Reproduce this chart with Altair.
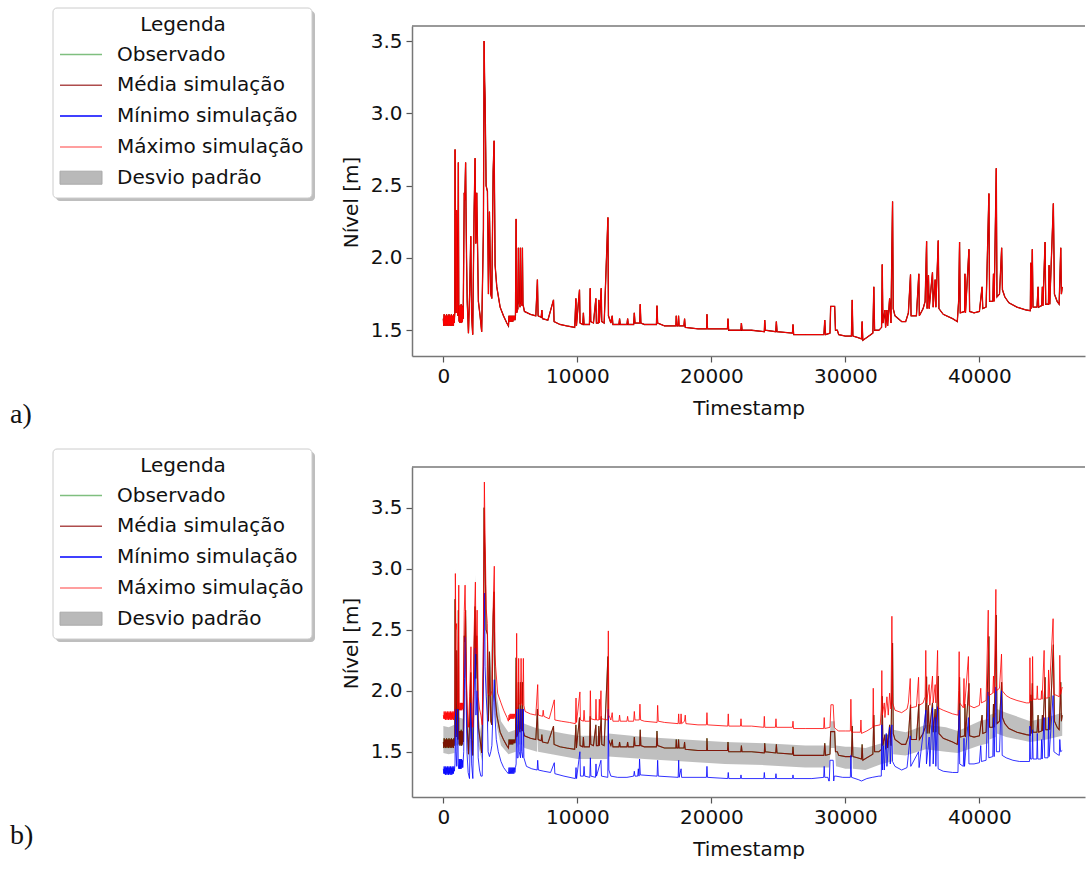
import altair as alt
import pandas as pd

# ---------------- data ----------------
# "Média simulação" (also panel a series and the hidden observed line): (timestamp, level)
mean_pts = [
    (0, 1.58), (30, 1.53), (60, 1.61), (90, 1.54), (120, 1.60), (150, 1.53), (180, 1.60), (210, 1.54),
    (240, 1.61), (270, 1.53), (300, 1.60), (330, 1.54), (360, 1.60), (390, 1.53), (420, 1.61), (450, 1.54),
    (480, 1.60), (510, 1.53), (540, 1.60), (570, 1.54), (600, 1.61), (630, 1.53), (660, 1.60), (690, 1.54),
    (720, 1.60), (750, 1.53), (780, 1.61), (810, 1.55),
    (850, 1.62), (874, 2.75), (900, 2.30), (930, 1.90), (960, 1.62), (990, 2.33), (1030, 1.70), (1080, 1.60),
    (1120, 2.66), (1150, 1.65),
    (1180, 1.56), (1210, 1.67), (1240, 1.55), (1270, 1.67), (1300, 1.56), (1330, 1.68), (1360, 1.55),
    (1390, 1.67), (1420, 1.56), (1450, 1.66), (1480, 1.58),
    (1560, 2.45), (1600, 2.40), (1660, 2.66), (1690, 2.35), (1730, 2.00), (1780, 1.70), (1873, 1.48),
    (1960, 1.75), (2045, 2.15), (2110, 1.60), (2190, 1.47), (2290, 2.30), (2368, 2.69), (2420, 2.10),
    (2490, 2.45), (2614, 1.70), (2740, 1.60), (2860, 1.49), (2990, 2.20), (3040, 3.50), (3080, 3.22),
    (3115, 3.10), (3190, 2.50), (3290, 2.46), (3365, 1.75), (3440, 2.32), (3540, 1.75), (3615, 1.72),
    (3715, 2.60), (3787, 2.81), (3862, 1.95), (3987, 1.80), (4236, 1.66), (4485, 1.60), (4734, 1.55),
    (4858, 1.53),
    (4900, 1.60), (4940, 1.56), (4980, 1.60), (5020, 1.56), (5060, 1.60), (5100, 1.56), (5140, 1.60),
    (5180, 1.56), (5220, 1.60), (5260, 1.57), (5300, 1.60), (5340, 1.57), (5380, 1.60),
    (5430, 2.27), (5470, 1.62), (5560, 1.65), (5600, 2.07), (5640, 1.70), (5720, 1.66), (5750, 2.07),
    (5790, 1.70), (5870, 1.67), (5900, 2.07), (5940, 1.68), (6050, 1.63),
    (6500, 1.61), (6900, 1.60), (7020, 1.85), (7070, 1.60), (7300, 1.59), (7350, 1.64), (7400, 1.58),
    (7800, 1.57), (8220, 1.71), (8260, 1.56), (8700, 1.54), (9200, 1.53), (9800, 1.52), (9890, 1.72),
    (9930, 1.53), (10160, 1.78), (10200, 1.55), (10400, 1.54), (10450, 1.62), (10500, 1.54), (10900, 1.54),
    (10960, 1.79), (11000, 1.56), (11200, 1.55), (11380, 1.72), (11420, 1.55), (11560, 1.55), (11600, 1.71),
    (11640, 1.55), (11780, 1.79), (11820, 1.56), (12000, 1.55), (12280, 2.28), (12320, 1.60), (12500, 1.55),
    (12600, 1.60), (12650, 1.54),
    (13100, 1.54), (13150, 1.58), (13200, 1.54), (13700, 1.54), (13750, 1.58), (13800, 1.54), (14200, 1.54),
    (14250, 1.62), (14300, 1.55), (14650, 1.55), (14690, 1.68), (14740, 1.55), (15000, 1.54), (15900, 1.54),
    (15940, 1.67), (15990, 1.55), (16500, 1.53), (17350, 1.53), (17380, 1.60), (17420, 1.53), (17520, 1.53),
    (17550, 1.60), (17590, 1.53), (17950, 1.53), (18000, 1.58), (18050, 1.52), (19000, 1.51), (19650, 1.51),
    (19670, 1.61), (19710, 1.51), (21200, 1.51), (21240, 1.58), (21290, 1.50), (22200, 1.50), (22240, 1.55),
    (22290, 1.50), (23000, 1.50), (23950, 1.49), (23980, 1.57), (24030, 1.50), (24800, 1.49), (24850, 1.56),
    (24900, 1.49), (26050, 1.48), (26090, 1.54), (26140, 1.47), (27000, 1.47), (28400, 1.47), (28460, 1.57),
    (28520, 1.47), (28850, 1.48), (28900, 1.665), (29200, 1.665), (29260, 1.50), (29400, 1.50), (29500, 1.47),
    (30000, 1.46), (30450, 1.46), (30510, 1.71), (30560, 1.46), (30900, 1.45), (31200, 1.44), (31250, 1.56),
    (31300, 1.43), (31600, 1.45), (32050, 1.48), (32120, 1.80), (32180, 1.50), (32500, 1.50), (32700, 1.52),
    (32750, 1.955), (32800, 1.55), (32950, 1.64), (33000, 1.52), (33100, 1.64), (33150, 1.53), (33300, 1.72),
    (33400, 1.55), (33470, 2.08), (33520, 2.39), (33570, 1.65), (33700, 1.60), (34200, 1.56), (34500, 1.56),
    (34700, 1.62), (34860, 1.885), (34900, 1.60), (35300, 1.60), (35480, 1.89), (35520, 1.60), (35800, 1.65),
    (35950, 1.70), (36060, 2.115), (36100, 1.65), (36200, 1.88), (36250, 1.65), (36500, 1.90), (36550, 1.66),
    (36700, 1.85), (36750, 1.66), (36930, 2.12), (36980, 1.65), (37300, 1.61), (38000, 1.58), (38350, 1.56),
    (38450, 1.70), (38520, 2.11), (38570, 1.62), (38900, 1.63), (38920, 1.89), (38960, 1.62), (39220, 2.06),
    (39270, 1.63), (39600, 1.62), (40000, 1.63), (40200, 1.80), (40250, 1.65), (40500, 1.66), (40710, 2.445),
    (40760, 1.70), (41000, 1.70), (41050, 1.89), (41100, 1.70), (41260, 2.62), (41310, 1.73), (41500, 1.75),
    (41660, 2.07), (41720, 1.78), (41900, 1.73), (42200, 1.69), (42800, 1.66), (43500, 1.64), (43800, 1.635),
    (43830, 1.966), (43870, 1.65), (43950, 2.06), (44000, 1.66), (44300, 1.66), (44380, 1.80), (44420, 1.66),
    (44650, 1.67), (44700, 1.80), (44740, 1.67), (44900, 2.11), (44950, 1.68), (45150, 1.68), (45200, 1.95),
    (45250, 1.68), (45520, 2.377), (45600, 1.75), (45800, 1.70), (45950, 1.68), (46070, 2.07), (46120, 1.75),
    (46180, 1.80),
]

# "Máximo simulação" in panel b
max_pts = [
    (0, 1.80), (30, 1.77), (60, 1.83), (90, 1.77), (120, 1.82), (150, 1.76), (180, 1.83), (210, 1.77),
    (240, 1.82), (270, 1.76), (300, 1.83), (330, 1.77), (360, 1.82), (390, 1.76), (420, 1.83), (450, 1.77),
    (480, 1.82), (510, 1.76), (540, 1.83), (570, 1.77), (600, 1.82), (630, 1.76), (660, 1.83), (690, 1.77),
    (720, 1.82), (750, 1.76), (780, 1.83), (820, 1.79),
    (870, 1.85), (895, 2.96), (930, 2.50), (990, 2.55), (1040, 1.90), (1100, 1.85), (1150, 2.865), (1180, 1.88),
    (1210, 1.84), (1240, 1.90), (1270, 1.84), (1300, 1.90), (1330, 1.84), (1360, 1.90), (1390, 1.84),
    (1420, 1.90), (1450, 1.85), (1480, 1.88),
    (1560, 2.65), (1620, 2.865), (1660, 2.58), (1700, 2.20), (1780, 1.85), (1870, 1.70), (1960, 1.95),
    (2060, 2.36), (2120, 1.80), (2200, 1.70), (2300, 2.50), (2390, 2.89), (2440, 2.30), (2520, 2.66),
    (2600, 1.95), (2700, 1.85), (2800, 1.80), (2900, 1.72), (2990, 2.50), (3060, 3.71), (3110, 3.30),
    (3200, 2.67), (3280, 2.55), (3340, 1.98), (3440, 1.96), (3540, 1.96), (3620, 2.00), (3720, 2.70),
    (3800, 3.02), (3850, 2.30), (3900, 2.20), (4050, 1.98), (4300, 1.90), (4500, 1.84), (4750, 1.78),
    (4850, 1.75),
    (4900, 1.80), (4940, 1.76), (4980, 1.81), (5020, 1.77), (5060, 1.81), (5100, 1.77), (5140, 1.81),
    (5180, 1.77), (5220, 1.81), (5260, 1.77), (5300, 1.81), (5340, 1.78), (5380, 1.81),
    (5430, 1.85), (5470, 2.47), (5510, 1.85), (5580, 1.87), (5620, 2.265), (5660, 1.90), (5760, 1.88),
    (5800, 2.265), (5840, 1.90), (5930, 1.88), (5970, 2.265), (6010, 1.88), (6100, 1.83), (6500, 1.81),
    (6900, 1.80), (7040, 2.05), (7090, 1.80), (7400, 1.79), (7450, 1.84), (7500, 1.79), (7900, 1.77),
    (8280, 1.925), (8320, 1.76), (8800, 1.75), (9400, 1.74), (9850, 1.73), (9900, 1.94), (9940, 1.74),
    (10190, 1.99), (10230, 1.76), (10450, 1.75), (10500, 1.84), (10550, 1.75), (10930, 1.75), (10970, 2.00),
    (11010, 1.77), (11350, 1.76), (11390, 1.93), (11430, 1.76), (11600, 1.76), (11640, 1.93), (11680, 1.76),
    (11760, 2.00), (11800, 1.77), (12270, 1.76), (12310, 2.49), (12350, 1.80), (12500, 1.76), (12600, 1.82),
    (12650, 1.75), (13100, 1.75), (13150, 1.80), (13200, 1.75), (13700, 1.75), (13750, 1.79), (13800, 1.75),
    (14200, 1.75), (14250, 1.83), (14300, 1.76), (14620, 1.76), (14670, 1.89), (14720, 1.76), (15000, 1.75),
    (15950, 1.74), (15990, 1.88), (16040, 1.75), (16500, 1.74), (17520, 1.73), (17560, 1.81), (17600, 1.73),
    (17700, 1.73), (17740, 1.81), (17780, 1.73), (18000, 1.75), (18050, 1.80), (18100, 1.73), (19000, 1.72),
    (19630, 1.72), (19670, 1.82), (19710, 1.72), (21220, 1.71), (21260, 1.81), (21300, 1.71), (22170, 1.71),
    (22210, 1.77), (22250, 1.71), (23000, 1.71), (23910, 1.70), (23950, 1.79), (23990, 1.70), (24780, 1.70),
    (24820, 1.77), (24860, 1.70), (26050, 1.70), (26090, 1.75), (26130, 1.69), (27000, 1.69), (28380, 1.69),
    (28420, 1.78), (28460, 1.69), (28850, 1.70), (28920, 1.885), (29090, 1.885), (29170, 1.70), (29350, 1.68),
    (29500, 1.67), (30000, 1.67), (30370, 1.67), (30410, 1.93), (30460, 1.66), (30800, 1.66), (31120, 1.66),
    (31160, 1.76), (31200, 1.65), (31600, 1.67), (32040, 1.70), (32080, 2.02), (32120, 1.71), (32600, 1.72),
    (32680, 1.85), (32720, 2.165), (32760, 1.80), (32900, 1.90), (32950, 1.78), (33100, 1.95), (33200, 1.80),
    (33300, 1.98), (33400, 1.85), (33470, 2.61), (33520, 1.90), (33700, 1.84), (34200, 1.82), (34600, 1.85),
    (34700, 1.90), (34840, 2.10), (34880, 1.86), (35300, 1.87), (35460, 2.11), (35500, 1.88), (35800, 1.90),
    (35950, 1.95), (36000, 2.33), (36050, 1.90), (36250, 2.05), (36300, 1.88), (36500, 2.12), (36550, 1.90),
    (36700, 2.05), (36750, 1.90), (36880, 2.33), (36920, 1.86), (37300, 1.84), (38000, 1.81), (38400, 1.80),
    (38450, 2.00), (38490, 2.32), (38530, 1.90), (38800, 1.86), (38850, 2.10), (38890, 1.86), (39180, 2.28),
    (39220, 1.88), (39600, 1.86), (40000, 1.88), (40100, 2.02), (40150, 1.90), (40500, 1.92), (40660, 2.66),
    (40700, 1.96), (41000, 1.98), (41050, 2.12), (41100, 1.98), (41230, 2.83), (41270, 2.00), (41500, 2.02),
    (41650, 2.30), (41700, 2.00), (42000, 1.96), (42300, 1.94), (42800, 1.92), (43500, 1.90), (43740, 1.90),
    (43770, 2.27), (43810, 1.92), (43930, 1.92), (43970, 2.28), (44010, 1.93), (44280, 1.93), (44320, 2.04),
    (44360, 1.93), (44600, 1.93), (44640, 2.00), (44680, 1.93), (44830, 2.33), (44870, 1.94), (45120, 1.94),
    (45160, 2.17), (45200, 1.95), (45500, 2.59), (45560, 1.97), (45800, 1.96), (45960, 1.95), (46000, 2.29),
    (46060, 1.97), (46180, 2.03),
]

# "Mínimo simulação" in panel b
min_pts = [
    (0, 1.36), (30, 1.32), (60, 1.38), (90, 1.32), (120, 1.37), (150, 1.31), (180, 1.38), (210, 1.32),
    (240, 1.37), (270, 1.31), (300, 1.38), (330, 1.32), (360, 1.37), (390, 1.31), (420, 1.38), (450, 1.32),
    (480, 1.37), (510, 1.31), (540, 1.38), (570, 1.32), (600, 1.37), (630, 1.31), (660, 1.38), (690, 1.32),
    (720, 1.37), (750, 1.32), (780, 1.38), (820, 1.34),
    (870, 1.40), (900, 1.85), (940, 1.50), (1000, 1.38), (1070, 1.85), (1110, 1.40),
    (1150, 1.36), (1180, 1.44), (1210, 1.36), (1240, 1.44), (1270, 1.36), (1300, 1.44), (1330, 1.36),
    (1360, 1.44), (1390, 1.37), (1420, 1.43), (1450, 1.37),
    (1520, 1.50), (1580, 2.10), (1640, 2.44), (1690, 2.00), (1760, 1.50), (1850, 1.33), (1950, 1.28),
    (2000, 1.60), (2060, 1.90), (2110, 1.40), (2200, 1.28), (2300, 2.00), (2380, 2.35), (2430, 1.80),
    (2520, 2.00), (2600, 1.45), (2700, 1.35), (2800, 1.30), (2900, 1.30), (2990, 2.10), (3060, 2.80),
    (3110, 2.20), (3200, 1.95), (3280, 1.80), (3340, 1.50), (3440, 1.46), (3540, 1.50), (3620, 1.55),
    (3720, 1.90), (3800, 2.09), (3850, 1.80), (3950, 1.60), (4100, 1.50), (4300, 1.42), (4500, 1.37),
    (4700, 1.34), (4850, 1.32),
    (4900, 1.37), (4940, 1.32), (4980, 1.37), (5020, 1.32), (5060, 1.37), (5100, 1.32), (5140, 1.37),
    (5180, 1.32), (5220, 1.37), (5260, 1.32), (5300, 1.37), (5340, 1.33), (5380, 1.37),
    (5430, 1.40), (5470, 1.85), (5510, 1.45), (5580, 1.45), (5620, 1.85), (5660, 1.50), (5760, 1.45),
    (5800, 1.85), (5840, 1.50), (5930, 1.45), (5970, 1.85), (6010, 1.45), (6200, 1.38), (6600, 1.36),
    (7000, 1.35), (7040, 1.43), (7090, 1.35), (7500, 1.34), (8000, 1.33), (8280, 1.41), (8320, 1.32),
    (9000, 1.30), (9850, 1.28), (9900, 1.37), (9940, 1.28), (10190, 1.50), (10230, 1.30), (10450, 1.30),
    (10500, 1.38), (10550, 1.30), (10930, 1.29), (10970, 1.45), (11010, 1.30), (11350, 1.29), (11390, 1.40),
    (11430, 1.30), (11760, 1.43), (11800, 1.30), (12270, 1.29), (12310, 1.85), (12350, 1.35), (12500, 1.30),
    (13000, 1.29), (13700, 1.29), (14200, 1.30), (14250, 1.34), (14300, 1.30), (14500, 1.30), (14550, 1.36),
    (14600, 1.30), (14640, 1.44), (14700, 1.31), (15950, 1.30), (15990, 1.43), (16040, 1.30), (17520, 1.29),
    (17560, 1.43), (17600, 1.29), (17740, 1.36), (17780, 1.29), (19630, 1.29), (19670, 1.38), (19710, 1.29),
    (21220, 1.28), (21260, 1.33), (21300, 1.28), (22170, 1.28), (22210, 1.31), (22250, 1.28), (23910, 1.28),
    (23950, 1.33), (23990, 1.28), (24780, 1.28), (24820, 1.32), (24860, 1.28), (26050, 1.28), (26090, 1.31),
    (26130, 1.28), (27500, 1.28), (28380, 1.29), (28420, 1.38), (28460, 1.29), (28700, 1.29), (28760, 1.26),
    (28800, 1.26), (28850, 1.43), (29000, 1.43), (29090, 1.43), (29130, 1.26), (29170, 1.30), (29300, 1.30),
    (29800, 1.29), (30370, 1.29), (30410, 1.47), (30460, 1.29), (31000, 1.27), (31200, 1.26), (31600, 1.28),
    (32000, 1.29), (32500, 1.30), (32680, 1.30), (32720, 1.72), (32760, 1.35), (32850, 1.55), (32900, 1.35),
    (33050, 1.65), (33100, 1.38), (33300, 1.70), (33350, 1.40), (33470, 1.72), (33520, 1.42), (33700, 1.38),
    (34200, 1.35), (34600, 1.37), (34840, 1.63), (34880, 1.38), (35460, 1.50), (35500, 1.37), (36000, 1.84),
    (36050, 1.40), (36250, 1.62), (36300, 1.38), (36500, 1.86), (36550, 1.40), (36700, 1.78), (36750, 1.38),
    (36880, 1.87), (36920, 1.36), (37300, 1.34), (38000, 1.33), (38400, 1.33), (38490, 1.84), (38530, 1.40),
    (38800, 1.38), (38850, 1.61), (38890, 1.38), (39180, 1.78), (39220, 1.40), (39600, 1.40), (40000, 1.41),
    (40100, 1.55), (40150, 1.42), (40500, 1.43), (40660, 1.99), (40700, 1.45), (41000, 1.46), (41050, 1.78),
    (41100, 1.46), (41230, 2.03), (41270, 1.50), (41500, 1.50), (41650, 2.00), (41700, 1.47), (42000, 1.45),
    (42500, 1.43), (43000, 1.42), (43740, 1.42), (43770, 1.71), (43810, 1.44), (43930, 1.44), (43970, 1.68),
    (44010, 1.44), (44280, 1.44), (44320, 1.65), (44360, 1.44), (44600, 1.44), (44640, 1.60), (44680, 1.44),
    (44830, 1.78), (44870, 1.45), (45120, 1.45), (45160, 1.78), (45200, 1.46), (45500, 1.96), (45560, 1.50),
    (45800, 1.48), (45960, 1.47), (46000, 1.60), (46060, 1.50), (46180, 1.51),
]

# "Desvio padrão" band in panel b: (timestamp, lower, upper)
band_pts = [
    (0, 1.49, 1.71), (400, 1.48, 1.70), (830, 1.49, 1.72), (874, 2.45, 3.00), (920, 1.55, 1.80),
    (1080, 1.55, 1.80), (1120, 2.35, 2.90), (1160, 1.55, 1.78), (1480, 1.55, 1.77), (1600, 1.80, 2.30),
    (1660, 2.35, 2.90), (1720, 1.70, 2.00), (1900, 1.42, 1.62), (2040, 1.70, 2.00), (2100, 1.45, 1.65),
    (2300, 1.80, 2.20), (2368, 2.40, 2.95), (2450, 1.90, 2.30), (2600, 1.55, 1.80), (2900, 1.42, 1.60),
    (3040, 3.00, 3.60), (3120, 2.60, 3.10), (3200, 1.90, 2.30), (3300, 1.65, 1.85), (3700, 2.20, 2.60),
    (3787, 2.50, 3.00), (3860, 1.80, 2.10), (4000, 1.70, 1.95), (4300, 1.55, 1.75), (4860, 1.48, 1.66),
    (5400, 1.50, 1.68), (5430, 1.95, 2.30), (5470, 1.52, 1.70), (5560, 1.55, 1.73), (5600, 1.90, 2.15),
    (5640, 1.56, 1.75), (5720, 1.56, 1.75), (5750, 1.90, 2.15), (5790, 1.56, 1.75), (5870, 1.56, 1.74),
    (5900, 1.90, 2.15), (5940, 1.55, 1.74), (6050, 1.53, 1.73), (7000, 1.50, 1.69), (7020, 1.70, 1.95),
    (7070, 1.50, 1.69), (9000, 1.46, 1.65), (10000, 1.44, 1.63), (12240, 1.44, 1.63), (12280, 2.05, 2.40),
    (12330, 1.46, 1.65), (15000, 1.44, 1.62), (18000, 1.42, 1.60), (21000, 1.40, 1.58), (24000, 1.39, 1.57),
    (27000, 1.37, 1.55), (28800, 1.37, 1.55), (28900, 1.53, 1.75), (29200, 1.53, 1.75), (29300, 1.38, 1.55),
    (30000, 1.36, 1.54), (30460, 1.36, 1.54), (30510, 1.55, 1.80), (30560, 1.36, 1.54), (31500, 1.35, 1.53),
    (32700, 1.40, 1.57), (33480, 1.42, 1.60), (33520, 2.20, 2.55), (33570, 1.48, 1.68), (34500, 1.47, 1.66),
    (36000, 1.52, 1.72), (37500, 1.50, 1.70), (38400, 1.49, 1.67), (40000, 1.55, 1.75), (40680, 1.57, 1.77),
    (40710, 2.25, 2.60), (40750, 1.60, 1.80), (41220, 1.62, 1.82), (41260, 2.45, 2.80), (41300, 1.65, 1.85),
    (42000, 1.62, 1.82), (43800, 1.58, 1.75), (45000, 1.60, 1.78), (46180, 1.63, 1.82),
]

legend_labels = ["Observado", "Média simulação", "Mínimo simulação", "Máximo simulação", "Desvio padrão"]
legend_colors = ["#008000", "#8b0000", "#0000ff", "#ff0000", "#808080"]
legend_alpha = [0.5, 0.7, 1.0, 0.5, 0.55]
x_ticks = [0, 10000, 20000, 30000, 40000]
y_ticks = [1.5, 2.0, 2.5, 3.0, 3.5]
panel_tags = ["a)", "b)"]

# ---------------- layout constants ----------------
W, H = 673, 330
X_DOMAIN = [-2340, 47880]
Y_DOMAIN_A = [1.322, 3.604]
Y_DOMAIN_B = [1.129, 3.833]
FONT = "DejaVu Sans"
FS = 20

one = pd.DataFrame({"k": [0]})


def xenc():
    return alt.X("t:Q", scale=alt.Scale(domain=X_DOMAIN, nice=False, zero=False),
                 axis=alt.Axis(values=x_ticks, format="d", title="Timestamp"))


def yenc(field, dom):
    return alt.Y(f"{field}:Q", scale=alt.Scale(domain=dom, nice=False, zero=False),
                 axis=alt.Axis(values=y_ticks, format=".1f", title="Nível [m]", titleY=176,
                               titlePadding=9))


def line(pts, dom, color, width=1.0, opacity=1.0):
    d = pd.DataFrame(pts, columns=["t", "v"])
    return alt.Chart(d).mark_line(color=color, strokeWidth=width, opacity=opacity, clip=True).encode(
        x=xenc(), y=yenc("v", dom))


def decorations(tag, tag_y):
    layers = []
    # top spine
    layers.append(alt.Chart(one).mark_rule(color="#777777", strokeWidth=1.5).encode(
        x=alt.value(0), x2=alt.value(W), y=alt.value(0)))
    # legend shadow and frame
    layers.append(alt.Chart(one).mark_rect(fill="#888888", opacity=0.55, cornerRadius=4).encode(
        x=alt.value(-356), x2=alt.value(-97), y=alt.value(-15), y2=alt.value(175)))
    layers.append(alt.Chart(one).mark_rect(fill="white", stroke="#cccccc", strokeWidth=1, cornerRadius=4).encode(
        x=alt.value(-359), x2=alt.value(-100), y=alt.value(-18), y2=alt.value(172)))
    layers.append(alt.Chart(one).mark_text(font=FONT, fontSize=FS, align="center", baseline="middle",
                                           color="#111111").encode(
        x=alt.value(-229), y=alt.value(-1), text=alt.value("Legenda")))
    for i, (lab, col, a) in enumerate(zip(legend_labels, legend_colors, legend_alpha)):
        ry = 28.5 + 30.8 * i
        if i < 4:
            layers.append(alt.Chart(one).mark_rule(color=col, opacity=a, strokeWidth=1.5).encode(
                x=alt.value(-352), x2=alt.value(-310), y=alt.value(ry)))
        else:
            layers.append(alt.Chart(one).mark_rect(fill=col, opacity=a, stroke="#666666", strokeWidth=1).encode(
                x=alt.value(-352), x2=alt.value(-310), y=alt.value(ry - 6.5), y2=alt.value(ry + 6.5)))
        layers.append(alt.Chart(one).mark_text(font=FONT, fontSize=FS, align="left", baseline="middle",
                                               color="#111111").encode(
            x=alt.value(-295), y=alt.value(ry), text=alt.value(lab)))
    layers.append(alt.Chart(one).mark_text(font="Liberation Serif", fontSize=28, align="left",
                                           baseline="alphabetic", color="#111111").encode(
        x=alt.value(-402), y=alt.value(tag_y), text=alt.value(tag)))
    return layers


# ---------------- panel a ----------------
panel_a = alt.layer(
    line(mean_pts, Y_DOMAIN_A, "#008000", 1.0, 0.5),
    line(mean_pts, Y_DOMAIN_A, "#8b0000", 1.3, 1.0),
    line(mean_pts, Y_DOMAIN_A, "#ff0000", 1.0, 0.9),
    *decorations(panel_tags[0], 397),
).properties(width=W, height=H)

# ---------------- panel b ----------------
band_df = pd.DataFrame(band_pts, columns=["t", "lo", "hi"])
band = alt.Chart(band_df).mark_area(color="#808080", opacity=0.5, clip=True).encode(
    x=xenc(), y=yenc("lo", Y_DOMAIN_B), y2="hi:Q")

panel_b = alt.layer(
    band,
    line(mean_pts, Y_DOMAIN_B, "#008000", 1.0, 0.6),
    line(mean_pts, Y_DOMAIN_B, "#8b0000", 1.1, 0.85),
    line(min_pts, Y_DOMAIN_B, "#0000ff", 1.0, 0.8),
    line(max_pts, Y_DOMAIN_B, "#ff0000", 1.0, 0.8),
    *decorations(panel_tags[1], 377),
).properties(width=W, height=H)

chart = alt.vconcat(panel_a, panel_b, spacing=19).properties(
    padding={"left": 10, "top": 7, "right": 0, "bottom": 0}
).configure_view(stroke=None).configure_axis(
    grid=False,
    labelFont=FONT, titleFont=FONT, labelFontSize=FS, titleFontSize=FS,
    titleFontWeight="normal", labelColor="#111111", titleColor="#111111",
    domainColor="#777777", domainWidth=1.5, tickColor="#555555", tickWidth=1.2,
    tickSize=6, labelPadding=4, titlePadding=12,
)

chart.save("out.html", embed_options={"renderer": "svg", "actions": False})
